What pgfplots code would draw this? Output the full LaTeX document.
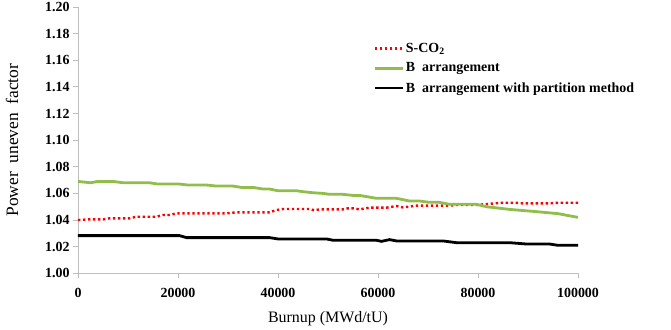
\documentclass[border=0pt]{standalone}
\usepackage{fontspec}
\setmainfont{Liberation Serif}
\usepackage{pgfplots}
\pgfplotsset{compat=1.18}
\definecolor{exgreen}{RGB}{145,190,75}
\definecolor{axgray}{RGB}{190,190,190}

\pgfplotstableread{
x y
0 1.040
2300 1.0405
5000 1.0405
6300 1.0413
10300 1.0413
11700 1.0425
15700 1.0425
17000 1.0438
18300 1.0438
19700 1.045
29700 1.045
31700 1.0458
38300 1.0458
39700 1.0475
41000 1.0483
46300 1.0483
47300 1.0473
48300 1.048
53000 1.048
54000 1.0488
55000 1.0488
56300 1.048
58300 1.0493
61700 1.0493
63700 1.0505
65000 1.0495
67700 1.0508
74300 1.0508
75700 1.0513
79700 1.0513
81700 1.052
85000 1.053
87700 1.053
89000 1.0525
94300 1.0525
96000 1.053
100000 1.053
}\sco

\pgfplotstableread{
x y
0 1.069
2500 1.068
4000 1.069
7000 1.069
9000 1.068
14300 1.068
16000 1.067
20300 1.067
22000 1.0663
25700 1.0663
27700 1.0655
31000 1.0655
32700 1.0645
35000 1.0645
37000 1.0633
38300 1.0633
40000 1.062
43700 1.062
45000 1.0613
47000 1.0605
49000 1.060
50300 1.0593
53000 1.0593
55000 1.0585
56300 1.0585
59700 1.0563
63700 1.0563
66300 1.0543
68300 1.0543
70300 1.0533
72300 1.0533
74300 1.0518
79700 1.0518
81700 1.050
86300 1.048
91700 1.0463
96000 1.0448
100000 1.042
}\barr

\pgfplotstableread{
x y
0 1.0283
20300 1.0283
21700 1.0268
38300 1.0268
40000 1.0258
49700 1.0258
51000 1.0248
59700 1.0248
60700 1.024
62300 1.0253
63700 1.0243
73000 1.0243
75700 1.023
86300 1.023
89700 1.022
94300 1.022
96000 1.021
100000 1.021
}\bpart

\begin{document}
\begin{tikzpicture}
\begin{axis}[
  width=500bp, height=266.3bp, scale only axis,
  xmin=0, xmax=100000, ymin=1.00, ymax=1.20,
  xtick={0,20000,...,100000},
  ytick={1.00,1.02,...,1.205},
  scaled x ticks=false,
  axis x line*=bottom, axis y line*=left,
  axis line style={axgray, line width=0.8bp, -},
  tick style={axgray, line width=0.8bp},
  tick align=outside, major tick length=5bp,
  /pgf/number format/assume math mode=true,
  x tick label style={font=\fontsize{14}{16}\selectfont\bfseries, /pgf/number format/.cd, fixed, 1000 sep={}},
  xticklabel shift=6bp,
  y tick label style={font=\fontsize{14}{16}\selectfont\bfseries, /pgf/number format/.cd, fixed, fixed zerofill, precision=2},
  xlabel={Burnup (MWd/tU)},
  xlabel style={font=\fontsize{16}{18}\selectfont, at={(axis description cs:0.5,-0.13)}, anchor=north},
  ylabel={Power\ \ uneven\ \ factor},
  ylabel style={font=\fontsize{17.5}{20}\selectfont, at={(axis description cs:-0.132,0.5)}, anchor=center},
  legend style={draw=none, fill=none, at={(axis description cs:0.584,0.88)}, anchor=north west,
    font=\fontsize{14}{16}\selectfont\bfseries, row sep=5bp},
  legend cell align=left,
  legend image code/.code={\draw[#1] (0bp,0bp) -- (28bp,0bp);},
  clip=false,
]
\addplot[red, line width=2.4bp, dash pattern=on 2.4bp off 2.6bp] table[x=x,y=y]{\sco};
\addplot[exgreen, line width=2.8bp] table[x=x,y=y]{\barr};
\addplot[black, line width=2.8bp] table[x=x,y=y]{\bpart};
\legend{S-CO\textsubscript{2}, B\ \ arrangement, B\ \ arrangement with partition method}
\end{axis}
\pgfresetboundingbox
\path ([shift={(-78bp,-56.7bp)}]current axis.south west) rectangle ([shift={(93bp,7bp)}]current axis.north east);
\end{tikzpicture}
\end{document}
